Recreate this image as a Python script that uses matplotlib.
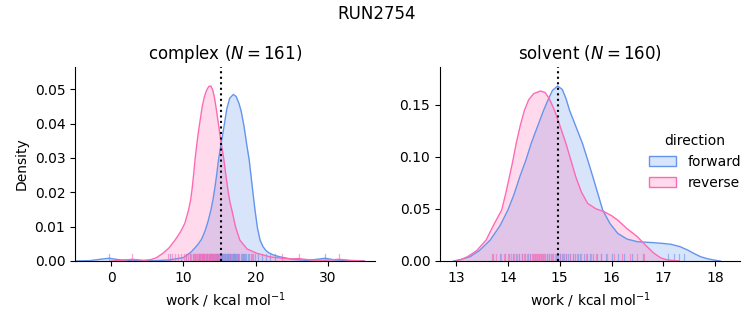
import matplotlib
matplotlib.use("Agg")
import matplotlib.pyplot as plt
from matplotlib.patches import Patch

BLUE = "#6495ED"
PINK = "#FF69B4"

# complex leg: density curves (x, density)
cx_fwd = [-5, -3, -1.5, -0.3, 1, 3, 6, 8, 10, 11, 11.5, 12, 12.5, 13, 13.4, 13.8, 14.1, 14.4,
          14.65, 14.85, 15.2, 15.6, 16.0, 16.4, 16.9, 17.3, 17.7, 18.0, 18.4, 18.75, 19.1, 19.5,
          19.9, 20.25, 20.6, 21.0, 21.4, 21.8, 22.5, 23.4, 25, 27, 28.5, 29.6, 31, 33, 35]
cy_fwd = [0, 0.0001, 0.0005, 0.0008, 0.0004, 0.0001, 0.0001, 0.0003, 0.0010, 0.0025, 0.0036,
          0.0048, 0.0063, 0.0088, 0.0115, 0.0148, 0.018, 0.022, 0.026, 0.0294, 0.034, 0.039,
          0.0443, 0.0474, 0.0485, 0.0479, 0.0458, 0.0435, 0.039, 0.034, 0.0294, 0.022, 0.0148,
          0.0095, 0.0061, 0.0042, 0.0031, 0.0024, 0.0017, 0.0012, 0.0005, 0.0002, 0.0005, 0.0008,
          0.0003, 0.0001, 0]
cx_rev = [0, 1.5, 2.9, 4.5, 5.5, 6.3, 7.2, 8.0, 8.85, 9.6, 10.2, 10.7, 11.0, 11.2, 11.4, 11.6,
          11.85, 12.1, 12.35, 12.6, 12.9, 13.2, 13.5, 13.78, 14.05, 14.3, 14.6, 14.9, 15.25,
          15.6, 15.9, 16.2, 16.45, 16.7, 17.2, 17.8, 18.8, 20.1, 22, 23.6, 25, 26, 27.5, 29.5,
          31.5, 33, 35]
cy_rev = [0, 0.0002, 0.0005, 0.0002, 0.0004, 0.001, 0.0023, 0.0038, 0.0061, 0.0085, 0.011,
          0.0148, 0.0178, 0.021, 0.025, 0.0294, 0.034, 0.038, 0.0415, 0.045, 0.0478, 0.0497,
          0.0508, 0.051, 0.0498, 0.0475, 0.0435, 0.039, 0.034, 0.0294, 0.0245, 0.020, 0.017,
          0.0148, 0.010, 0.0061, 0.0035, 0.0023, 0.0012, 0.0008, 0.0006, 0.0007, 0.0003, 0.0002,
          0.0005, 0.0002, 0]

# solvent leg
sx_fwd = [12.95, 13.1, 13.27, 13.45, 13.66, 13.85, 14.0, 14.12, 14.23, 14.35, 14.45, 14.58,
          14.69, 14.78, 14.86, 14.96, 15.05, 15.12, 15.19, 15.32, 15.44, 15.54, 15.64, 15.74,
          15.83, 15.97, 16.12, 16.3, 16.5, 16.8, 17.0, 17.15, 17.32, 17.47, 17.6, 17.72, 17.85,
          17.97, 18.1]
sy_fwd = [0, 0.0015, 0.0041, 0.010, 0.0201, 0.034, 0.0488, 0.064, 0.0807, 0.097, 0.1127,
          0.130, 0.1445, 0.155, 0.1635, 0.1678, 0.1645, 0.156, 0.1445, 0.128, 0.1127, 0.097,
          0.0807, 0.064, 0.0488, 0.036, 0.0265, 0.021, 0.0185, 0.0176, 0.0168, 0.016, 0.0138,
          0.0105, 0.007, 0.0041, 0.0022, 0.001, 0]
sx_rev = [13.0, 13.1, 13.22, 13.4, 13.58, 13.73, 13.88, 13.96, 14.03, 14.1, 14.16, 14.24,
          14.32, 14.4, 14.5, 14.63, 14.72, 14.8, 14.9, 15.01, 15.12, 15.22, 15.31, 15.42, 15.54,
          15.7, 15.86, 16.0, 16.12, 16.3, 16.5, 16.66, 16.82, 16.95, 17.08, 17.3]
sy_rev = [0, 0.0015, 0.0041, 0.010, 0.0201, 0.035, 0.0488, 0.065, 0.0807, 0.097, 0.1127,
          0.130, 0.1445, 0.1545, 0.1605, 0.163, 0.1615, 0.1555, 0.1445, 0.129, 0.1127, 0.096,
          0.0807, 0.066, 0.0552, 0.050, 0.0472, 0.0435, 0.0392, 0.031, 0.0233, 0.015, 0.0074,
          0.003, 0.001, 0]

# rug positions (individual work values)
rug_c_fwd = [-0.3, 8.2, 10.4, 10.9, 11.3, 11.6, 11.9, 12.1, 12.3, 12.5, 12.7, 12.9, 13.1, 13.3,
             13.5, 13.65, 13.8, 13.95, 14.1, 14.25, 14.4, 14.5, 14.6, 14.7, 14.8, 14.9, 15.0,
             15.1, 15.2, 15.3, 15.4, 15.5, 15.6, 15.7, 15.8, 15.9, 16.0, 16.1, 16.2, 16.3, 16.4,
             16.5, 16.6, 16.7, 16.8, 16.9, 17.0, 17.1, 17.2, 17.3, 17.4, 17.5, 17.6, 17.75,
             17.9, 18.05, 18.2, 18.35, 18.5, 18.7, 18.9, 19.1, 19.35, 19.6, 19.9, 20.3, 20.8,
             21.4, 22.0, 22.6, 29.6]
rug_c_rev = [2.9, 7.9, 8.4, 8.9, 9.3, 9.7, 10.1, 10.4, 10.7, 10.9, 11.1, 11.3, 11.5, 11.65,
             11.8, 11.95, 12.1, 12.2, 12.3, 12.4, 12.5, 12.6, 12.7, 12.8, 12.9, 13.0, 13.1, 13.2,
             13.3, 13.4, 13.5, 13.6, 13.7, 13.8, 13.9, 14.0, 14.1, 14.2, 14.35, 14.5, 14.65,
             14.8, 15.0, 15.2, 15.45, 15.7, 16.0, 16.4, 16.9, 17.5, 18.3, 19.5, 23.6, 26.0, 31.5]
rug_s_fwd = [13.72, 13.85, 13.95, 14.03, 14.1, 14.16, 14.22, 14.28, 14.33, 14.38, 14.43, 14.48,
             14.52, 14.56, 14.6, 14.64, 14.68, 14.72, 14.76, 14.8, 14.84, 14.88, 14.92, 14.96,
             15.0, 15.04, 15.08, 15.12, 15.16, 15.2, 15.25, 15.3, 15.35, 15.4, 15.46, 15.52,
             15.58, 15.65, 15.72, 15.8, 15.9, 16.0, 16.12, 16.25, 16.4, 16.6, 17.1, 17.2, 17.3,
             17.4]
rug_s_rev = [13.7, 13.78, 13.86, 13.93, 14.0, 14.06, 14.12, 14.17, 14.22, 14.27, 14.32, 14.37,
             14.42, 14.46, 14.5, 14.54, 14.58, 14.62, 14.66, 14.7, 14.75, 14.8, 14.85, 14.9,
             14.95, 15.0, 15.06, 15.12, 15.19, 15.26, 15.34, 15.42, 15.5, 15.6, 15.7, 15.8,
             15.92, 16.05, 16.2, 16.35, 16.5, 16.62]

# reference lines
cut_complex = 15.2
cut_solvent = 14.97

fig = plt.figure(figsize=(7.53, 3.25), dpi=100)
ax1 = fig.add_axes([75 / 753, 1 - 261 / 325, 300 / 753, 194 / 325])
ax2 = fig.add_axes([440 / 753, 1 - 261 / 325, 300 / 753, 194 / 325])


def draw(ax, xs, ys, color, rug):
    ax.fill_between(xs, ys, 0, color=color, alpha=0.25, lw=0)
    ax.plot(xs, ys, color=color, lw=1)
    for r in rug:
        ax.axvline(r, ymin=0, ymax=0.035, color=color, lw=0.9, alpha=0.6)


draw(ax1, cx_fwd, cy_fwd, BLUE, rug_c_fwd)
draw(ax1, cx_rev, cy_rev, PINK, rug_c_rev)
draw(ax2, sx_fwd, sy_fwd, BLUE, rug_s_fwd)
draw(ax2, sx_rev, sy_rev, PINK, rug_s_rev)

ax1.axvline(cut_complex, color="black", ls=":", lw=1.5)
ax2.axvline(cut_solvent, color="black", ls=":", lw=1.5)

ax1.set_xlim(-5, 36.5)
ax1.set_ylim(0, 0.0565)
ax1.set_xticks([0, 10, 20, 30])
ax1.set_yticks([0, 0.01, 0.02, 0.03, 0.04, 0.05])
ax2.set_xlim(12.69, 18.48)
ax2.set_ylim(0, 0.186)
ax2.set_yticks([0, 0.05, 0.10, 0.15])

ax1.set_title("complex ($N = 161$)", fontsize=12)
ax2.set_title("solvent ($N = 160$)", fontsize=12)
ax1.set_ylabel("Density")
for ax in (ax1, ax2):
    ax.set_xlabel("work / kcal mol$^{-1}$")
    ax.spines["top"].set_visible(False)
    ax.spines["right"].set_visible(False)

fig.suptitle("RUN2754", fontsize=12, y=0.985)

handles = [Patch(facecolor=(0.392, 0.584, 0.929, 0.25), edgecolor=BLUE),
           Patch(facecolor=(1.0, 0.412, 0.706, 0.25), edgecolor=PINK)]
fig.legend(handles, ["forward", "reverse"], title="direction", frameon=False,
           loc="center left", bbox_to_anchor=(636 / 753, 1 - 162 / 325), fontsize=10)

fig.savefig("out.png", dpi=100)
